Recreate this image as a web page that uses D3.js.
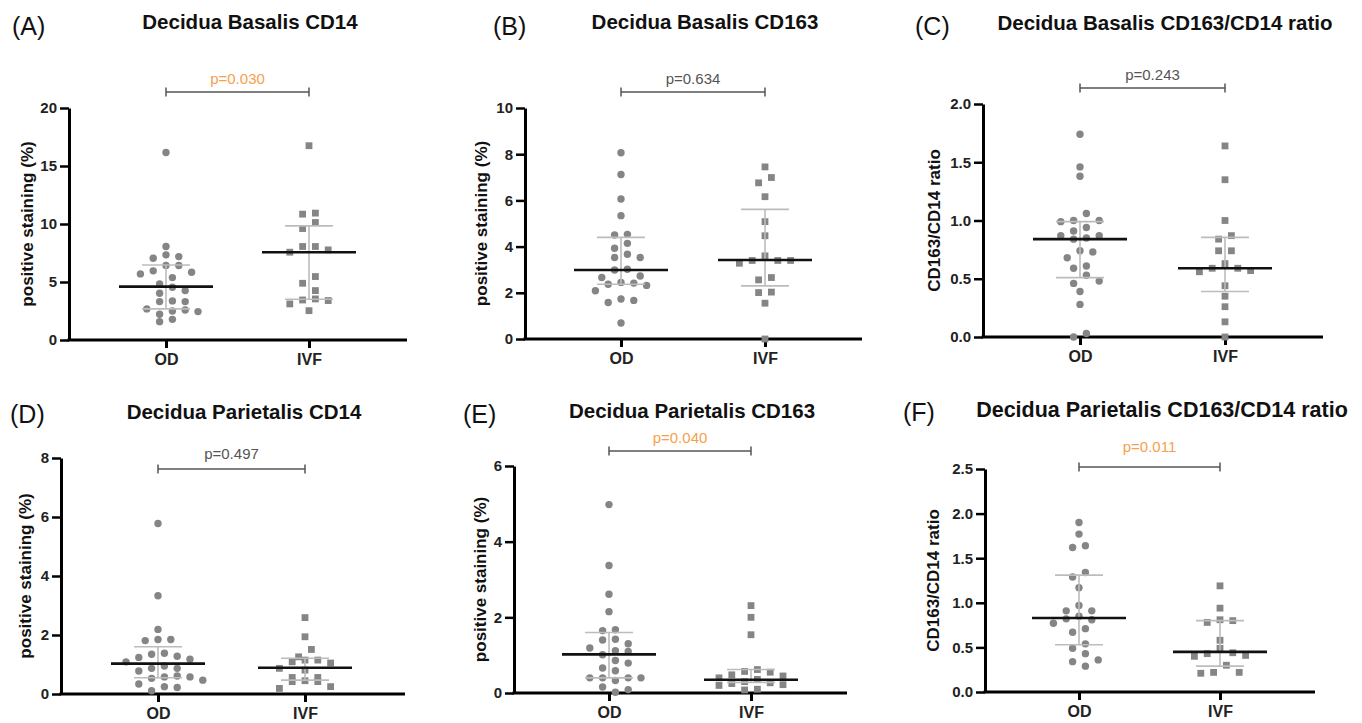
<!DOCTYPE html>
<html>
<head>
<meta charset="utf-8">
<script src="https://cdn.jsdelivr.net/npm/d3@7"></script>
<style>
  body { margin: 0; background: #fff; }
  svg { display: block; font-family: "Liberation Sans", Arial, sans-serif; }
</style>
</head>
<body>
<svg id="chart" width="1362" height="723"></svg>
<script>
// ---- DATA ----
const categories = ['OD', 'IVF'];
const panelLetters = ['(A)', '(B)', '(C)', '(D)', '(E)', '(F)'];
const panelTitles = [
    'Decidua Basalis CD14',
    'Decidua Basalis CD163',
    'Decidua Basalis CD163/CD14 ratio',
    'Decidua Parietalis CD14',
    'Decidua Parietalis CD163',
    'Decidua Parietalis CD163/CD14 ratio'
];
const yLabels = ['positive staining (%)', 'positive staining (%)', 'CD163/CD14 ratio',
                 'positive staining (%)', 'positive staining (%)', 'CD163/CD14 ratio'];
const yTicks = [
    [0, 5, 10, 15, 20],
    [0, 2, 4, 6, 8, 10],
    [0, 0.5, 1.0, 1.5, 2.0],
    [0, 2, 4, 6, 8],
    [0, 2, 4, 6],
    [0, 0.5, 1.0, 1.5, 2.0, 2.5]
];
const pLabels = ['p=0.030', 'p=0.634', 'p=0.243', 'p=0.497', 'p=0.040', 'p=0.011'];
const pSignificant = [true, false, false, false, true, true];

// individual values, OD (circles) and IVF (squares)
const odA = [16.17, 8.06, 7.34, 7.19, 7.05, 6.42, 6.42, 5.96, 5.84, 5.70, 5.38, 4.83, 4.55, 4.26, 4.03, 3.37, 3.31, 3.31, 2.68, 2.59, 2.50, 2.45, 2.22, 1.78, 1.58];
const ivfA = [16.75, 10.94, 10.85, 10.13, 9.61, 8.06, 8.06, 7.77, 7.57, 5.47, 4.89, 4.26, 3.54, 3.45, 3.40, 3.11, 2.53];
const odB = [8.06, 7.12, 6.06, 5.34, 4.53, 4.50, 4.14, 3.93, 3.67, 3.53, 3.53, 3.02, 2.99, 2.73, 2.66, 2.45, 2.42, 2.37, 2.32, 2.09, 1.73, 1.67, 1.58, 0.69];
const ivfB = [7.45, 6.99, 6.76, 6.16, 5.08, 4.47, 3.60, 3.40, 3.40, 3.40, 3.28, 2.66, 2.56, 2.03, 2.01, 1.55, 0.00];
const odC = [1.74, 1.46, 1.38, 1.06, 1.00, 1.00, 0.99, 0.94, 0.91, 0.87, 0.87, 0.85, 0.84, 0.74, 0.73, 0.68, 0.61, 0.59, 0.53, 0.48, 0.46, 0.39, 0.28, 0.03, 0.00];
const ivfC = [1.64, 1.35, 1.00, 0.87, 0.84, 0.74, 0.74, 0.63, 0.59, 0.59, 0.57, 0.56, 0.44, 0.35, 0.26, 0.13, 0.00];
const odD = [5.78, 3.33, 2.19, 1.85, 1.85, 1.81, 1.38, 1.35, 1.28, 1.24, 1.18, 1.09, 0.95, 0.87, 0.87, 0.78, 0.61, 0.58, 0.58, 0.53, 0.47, 0.34, 0.25, 0.22, 0.11];
const ivfD = [2.59, 1.94, 1.51, 1.26, 1.15, 1.15, 1.09, 1.05, 0.87, 0.81, 0.56, 0.56, 0.45, 0.42, 0.42, 0.25, 0.19];
const odE = [4.98, 3.37, 2.61, 2.15, 1.67, 1.65, 1.42, 1.40, 1.30, 1.19, 1.12, 1.10, 1.01, 0.86, 0.79, 0.66, 0.59, 0.40, 0.40, 0.40, 0.40, 0.33, 0.16, 0.09, 0.02];
const ivfE = [2.31, 2.00, 1.54, 0.62, 0.57, 0.55, 0.48, 0.45, 0.40, 0.36, 0.30, 0.27, 0.25, 0.22, 0.20, 0.10, 0.08];
const odF = [1.90, 1.77, 1.64, 1.62, 1.34, 1.29, 1.17, 0.97, 0.91, 0.91, 0.85, 0.82, 0.81, 0.77, 0.71, 0.67, 0.54, 0.49, 0.43, 0.36, 0.34, 0.29];
const ivfF = [1.19, 0.94, 0.81, 0.80, 0.78, 0.58, 0.49, 0.44, 0.43, 0.41, 0.40, 0.30, 0.22, 0.22, 0.21];

// median, Q1, Q3 per group [OD, IVF]
const medians = [[4.60, 7.57], [2.99, 3.42], [0.84, 0.59], [1.03, 0.89], [1.02, 0.35], [0.83, 0.45]];
const q1s     = [[2.68, 3.51], [2.37, 2.30], [0.51, 0.39], [0.55, 0.47], [0.40, 0.28], [0.53, 0.29]];
const q3s     = [[6.47, 9.84], [4.40, 5.61], [0.99, 0.855], [1.60, 1.21], [1.60, 0.62], [1.31, 0.80]];

const groupValues = [[odA, ivfA], [odB, ivfB], [odC, ivfC], [odD, ivfD], [odE, ivfE], [odF, ivfF]];

// ---- LAYOUT ----
const layout = [
    { axisX: 69,  y0: 340, yTop: 108, xEnd: 407,  od: 166,  ivf: 309,  brY: 92,  pOff: 8,  tX: 250,  tY: 29,  lX: 12,  lY: 35,  ylX: 27,  tSize: 20.5 },
    { axisX: 525, y0: 339, yTop: 108, xEnd: 862,  od: 621,  ivf: 765,  brY: 92,  pOff: 8,  tX: 705,  tY: 29,  lX: 493, lY: 35,  ylX: 481, tSize: 20.5 },
    { axisX: 983, y0: 337, yTop: 104, xEnd: 1323, od: 1080, ivf: 1225, brY: 88,  pOff: 8,  tX: 1165, tY: 30,  lX: 915, lY: 35,  ylX: 934, tSize: 20.5 },
    { axisX: 61,  y0: 694, yTop: 458, xEnd: 405,  od: 158,  ivf: 305,  brY: 469, pOff: 10, tX: 244,  tY: 419, lX: 10,  lY: 423, ylX: 25,  tSize: 20.5 },
    { axisX: 514, y0: 693, yTop: 466, xEnd: 847,  od: 609,  ivf: 751,  brY: 451, pOff: 8,  tX: 692,  tY: 418, lX: 463, lY: 423, ylX: 480, tSize: 20.5 },
    { axisX: 985, y0: 692, yTop: 469, xEnd: 1315, od: 1079, ivf: 1220, brY: 467, pOff: 15, tX: 1162, tY: 417, lX: 903, lY: 421, ylX: 933, tSize: 21.5 }
];

const POINT_FILL = '#858585';
const WHISKER = '#bcbcbc';
const STEP = 12.8;      // horizontal spacing between swarm columns
const DIAM = 7.4;
const ROW_GAP = 7.5;
const ROW_SPAN = 9;
const ROW_MAX = 6;

const svg = d3.select('#chart');

// rows of points centred on the category, highest in the middle
function swarm(values, y, cx) {
    const pts = values.map(v => ({ v: v, py: y(v) })).sort((a, b) => a.py - b.py);
    let rows = [];
    let cur = null;
    pts.forEach(p => {
        if (cur && p.py - cur[cur.length - 1].py < ROW_GAP && p.py - cur[0].py < ROW_SPAN && cur.length < ROW_MAX) {
            cur.push(p);
        } else {
            cur = [p];
            rows.push(cur);
        }
    });
    let placed = [];
    rows.forEach(row => {
        const n = row.length;
        let slots = d3.range(n).map(i => (i - (n - 1) / 2) * STEP)
            .sort((a, b) => Math.abs(a) - Math.abs(b) || b - a);
        let best = 0;
        for (const sh of [0, STEP / 2, -STEP / 2, STEP, -STEP]) {
            const ok = row.every((p, i) => placed.every(q =>
                Math.abs(q.dx - (slots[i] + sh)) > STEP * 0.9 || Math.abs(q.py - p.py) > DIAM));
            if (ok) { best = sh; break; }
        }
        row.forEach((p, i) => { p.dx = slots[i] + best; placed.push(p); });
    });
    return placed.map(p => ({ v: p.v, x: cx + p.dx, y: p.py }));
}

layout.forEach((L, i) => {
    const g = svg.append('g').attr('class', 'panel');

    const y = d3.scaleLinear().domain([0, d3.max(yTicks[i])]).range([L.y0, L.yTop]);
    const x = d3.scalePoint().domain(categories).range([L.od, L.ivf]);
    const isRatio = yLabels[i].indexOf('ratio') >= 0;

    // letter + title
    g.append('text')
        .attr('x', L.lX).attr('y', L.lY)
        .style('font-size', '25px').style('fill', '#111')
        .text(panelLetters[i]);
    g.append('text')
        .attr('x', L.tX).attr('y', L.tY)
        .attr('text-anchor', 'middle')
        .style('font-size', L.tSize + 'px').style('font-weight', 'bold').style('fill', '#111')
        .text(panelTitles[i]);

    // y axis
    const yAxis = g.append('g')
        .attr('transform', `translate(${L.axisX},0)`)
        .call(d3.axisLeft(y)
            .tickValues(yTicks[i])
            .tickSize(9)
            .tickSizeOuter(0)
            .tickPadding(3)
            .tickFormat(isRatio ? d3.format('.1f') : d3.format('d')));
    yAxis.select('.domain').attr('stroke', '#000').attr('stroke-width', 3);
    yAxis.selectAll('.tick line').attr('stroke', '#000').attr('stroke-width', 2.5);
    yAxis.selectAll('.tick text')
        .style('font-size', '15px').style('font-weight', 'bold').style('fill', '#222')
        .style('font-family', '"Liberation Sans", Arial, sans-serif');

    g.append('text')
        .attr('transform', `translate(${L.ylX},${(L.y0 + L.yTop) / 2}) rotate(-90)`)
        .attr('text-anchor', 'middle')
        .attr('dy', '0.35em')
        .style('font-size', '17px').style('font-weight', 'bold').style('fill', '#111')
        .text(yLabels[i]);

    // x axis
    g.append('line')
        .attr('x1', L.axisX - 1.5).attr('x2', L.xEnd)
        .attr('y1', L.y0).attr('y2', L.y0)
        .attr('stroke', '#000').attr('stroke-width', 3);
    const xAxis = g.append('g')
        .attr('transform', `translate(0,${L.y0})`)
        .call(d3.axisBottom(x).tickSize(8).tickPadding(6));
    xAxis.select('.domain').remove();
    xAxis.selectAll('.tick line').attr('stroke', '#000').attr('stroke-width', 3);
    xAxis.selectAll('.tick text')
        .style('font-size', '16px').style('font-weight', 'bold').style('fill', '#222')
        .style('font-family', '"Liberation Sans", Arial, sans-serif');

    // points
    categories.forEach((cat, c) => {
        const pts = swarm(groupValues[i][c], y, x(cat));
        if (c == 0) {
            g.selectAll(null).data(pts).enter().append('circle')
                .attr('cx', d => d.x).attr('cy', d => d.y)
                .attr('r', 3.7)
                .style('fill', POINT_FILL);
        } else {
            g.selectAll(null).data(pts).enter().append('rect')
                .attr('x', d => d.x - 3.4).attr('y', d => d.y - 3.4)
                .attr('width', 6.8).attr('height', 6.8)
                .style('fill', POINT_FILL);
        }
    });

    // median with interquartile range
    categories.forEach((cat, c) => {
        const cx = x(cat);
        g.append('line')
            .attr('x1', cx).attr('x2', cx)
            .attr('y1', y(q1s[i][c])).attr('y2', y(q3s[i][c]))
            .attr('stroke', WHISKER).attr('stroke-width', 1.6);
        [q1s[i][c], q3s[i][c]].forEach(q => {
            g.append('line')
                .attr('x1', cx - 24).attr('x2', cx + 24)
                .attr('y1', y(q)).attr('y2', y(q))
                .attr('stroke', WHISKER).attr('stroke-width', 1.6);
        });
        g.append('line')
            .attr('x1', cx - 47).attr('x2', cx + 47)
            .attr('y1', y(medians[i][c])).attr('y2', y(medians[i][c]))
            .attr('stroke', '#111').attr('stroke-width', 2.6);
    });

    // significance bracket
    const bx1 = x('OD'), bx2 = x('IVF');
    g.append('line')
        .attr('x1', bx1).attr('x2', bx2).attr('y1', L.brY).attr('y2', L.brY)
        .attr('stroke', '#555').attr('stroke-width', 1.5);
    [bx1, bx2].forEach(bx => {
        g.append('line')
            .attr('x1', bx).attr('x2', bx).attr('y1', L.brY - 4.5).attr('y2', L.brY + 4.5)
            .attr('stroke', '#555').attr('stroke-width', 1.5);
    });
    g.append('text')
        .attr('x', (bx1 + bx2) / 2).attr('y', L.brY - L.pOff)
        .attr('text-anchor', 'middle')
        .style('font-size', '15px')
        .style('fill', pSignificant[i] ? '#f6a04d' : '#555')
        .text(pLabels[i]);
});
</script>
</body>
</html>
